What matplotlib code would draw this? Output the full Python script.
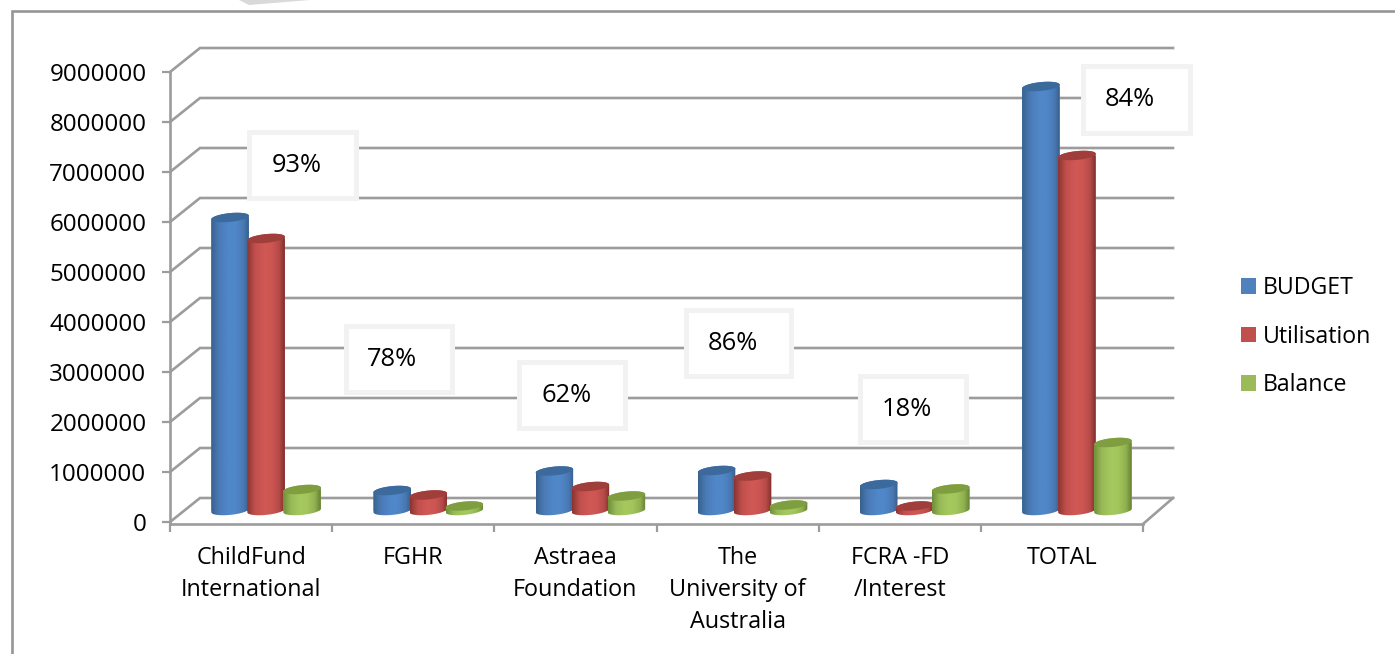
import numpy as np
import matplotlib
matplotlib.use("Agg")
import matplotlib.pyplot as plt
from matplotlib.patches import Patch, Polygon, Rectangle

categories = ["ChildFund\nInternational", "FGHR", "Astraea\nFoundation",
              "The\nUniversity of\nAustralia", "FCRA -FD\n/Interest", "TOTAL"]
budget = [5860000, 400000, 790000, 800000, 520000, 8480000]
utilisation = [5440000, 310000, 480000, 690000, 90000, 7100000]
balance = [420000, 90000, 290000, 110000, 430000, 1360000]
y_ticks = [0, 1000000, 2000000, 3000000, 4000000, 5000000, 6000000, 7000000, 8000000, 9000000]
series_names = ["BUDGET", "Utilisation", "Balance"]
percent_labels = ["93%", "78%", "62%", "86%", "18%", "84%"]

W, H = 1395, 654
FONT = "Open Sans"
FS = 16.8
FS_NUM = 17.4
FS_PCT = 18.4
GRAY = "#9c9c9c"
plt.rcParams["font.family"] = [FONT, "DejaVu Sans"]

fig = plt.figure(figsize=(W / 100, H / 100), dpi=100, facecolor="white")
L, R, T, B = 170, 1143, 72, 524
ax = fig.add_axes([L / W, 1 - B / H, (R - L) / W, (B - T) / H])
PX_X = (R - L) / 6.0        # pixels per category
PX_Y = 50 / 1e6             # pixels per value unit
YMIN = -2 / PX_Y
ax.set_xlim(0, 6)
ax.set_ylim(YMIN, 9000000)
ax.set_facecolor("none")

DX, DY = 30 / PX_X, 24 / PX_Y   # depth of the 3D box in data units

# --- walls, floor
for s in ("top", "right"):
    ax.spines[s].set_visible(False)
for s in ("left", "bottom"):
    ax.spines[s].set_color(GRAY)
    ax.spines[s].set_linewidth(1.9)
ax.spines["left"].set_bounds(YMIN, 9000000)
for v in y_ticks:
    ax.plot([0, DX, 6 + DX], [v, v + DY, v + DY], color=GRAY, lw=1.9,
            clip_on=False, zorder=1, solid_joinstyle="miter")
ax.plot([6, 6 + DX], [YMIN, DY], color=GRAY, lw=1.9, clip_on=False, zorder=1)

ax.set_yticks(y_ticks)
ax.set_yticklabels([str(v) for v in y_ticks], fontsize=FS_NUM, color="black")
ax.tick_params(axis="y", length=6, width=1.6, color=GRAY, pad=11)
ax.set_xticks(range(7))
ax.set_xticklabels([])
ax.tick_params(axis="x", which="major", length=5.5, width=1.6, color=GRAY)
ax.set_xticks(np.arange(6) + 0.5, minor=True)
ax.set_xticklabels(categories, minor=True, fontsize=FS, color="black", linespacing=1.46)
ax.tick_params(axis="x", which="minor", length=0, pad=15.5)

# --- cylinders
SERIES = [
    (budget, "#4f81bd", "#3d6a9c", ["#38618f", "#4a7ab5", "#5087c9", "#5087c9", "#4a7ab5", "#38608f"]),
    (utilisation, "#c0504d", "#a03e3b", ["#8a3431", "#c04f4c", "#d05855", "#cd5653", "#b54b48", "#7f2f2d"]),
    (balance, "#9bbb59", "#7f9e40", ["#6f8f3a", "#98ba57", "#a6c95f", "#a3c55c", "#8fb04f", "#668235"]),
]
OFFSETS = [-0.222, 0.0, 0.222]
BW = 37.5 / PX_X
t = np.linspace(0, 2 * np.pi, 121)
A_PX, B_PX, TILT_PX = 18.75, 4.4, 1.8


def ellipse(xc, yc, tt):
    return np.column_stack([
        xc + A_PX * np.cos(tt) / PX_X,
        yc + (B_PX * np.sin(tt) + TILT_PX * np.cos(tt)) / PX_Y,
    ])


for (vals, base, top, stops), off in zip(SERIES, OFFSETS):
    rgb = np.array([matplotlib.colors.to_rgb(c) for c in stops])
    pos = np.array([0.0, 0.2, 0.45, 0.65, 0.85, 1.0])
    xs = np.linspace(0, 1, 64)
    grad = np.column_stack([np.interp(xs, pos, rgb[:, k]) for k in range(3)])[None, :, :]
    for i, v in enumerate(vals):
        xc = i + 0.5 + off + DX / 2
        y0 = 11.5 / PX_Y
        y1 = v + y0
        lower = ellipse(xc, y0, np.linspace(np.pi, 2 * np.pi, 60))
        upper = ellipse(xc, y1, np.linspace(0, np.pi, 60))
        body = Polygon(np.vstack([lower, upper]), closed=True, transform=ax.transData,
                       facecolor="none", edgecolor="none")
        ax.add_patch(body)
        bar = ax.bar(xc, v, BW, bottom=y0, color=base, zorder=3, linewidth=0)[0]
        bar.set_clip_path(body)
        im = ax.imshow(grad, extent=(xc - BW / 2, xc + BW / 2, y0 - 6 / PX_Y, y1 + 6 / PX_Y),
                       aspect="auto", zorder=3, interpolation="bilinear")
        im.set_clip_path(body)
        ax.add_patch(Polygon(ellipse(xc, y1, t), closed=True, facecolor=top,
                             edgecolor="none", zorder=3, clip_on=False))
ax.set_xlim(0, 6)
ax.set_ylim(YMIN, 9000000)

# --- percentage boxes (outer pixel box, text centre)
BOXES = [(246, 129, 358, 200), (343, 323, 454, 394), (516, 359, 627, 430),
         (683, 307, 793, 378), (857, 373, 968, 444), (1080, 63, 1192, 135)]
TEXT_AT = [(297, 166), (392, 360), (567, 396), (733, 344), (907, 410), (1130, 100)]
for lab, (x0, y0, x1, y1), (tx, ty) in zip(percent_labels, BOXES, TEXT_AT):
    ax.add_patch(Rectangle((x0 + 2.5, H - y1 + 2.5), x1 - x0 - 5, y1 - y0 - 5,
                           transform=None, facecolor="white", edgecolor="#f2f2f2",
                           lw=3.6, zorder=5, clip_on=False))
    ax.text(tx, H - ty, lab, transform=None, ha="center", va="center",
            fontsize=FS_PCT, color="black", zorder=6, clip_on=False)

# --- legend
handles = [Patch(facecolor=s[1], edgecolor="none", label=n) for s, n in zip(SERIES, series_names)]
fig.legend(handles=handles, loc="upper left", bbox_to_anchor=(1241 / W, 1 - 276 / H),
           frameon=False, fontsize=16.7, borderpad=0, borderaxespad=0,
           handlelength=0.645, handleheight=0.645, handletextpad=0.3, labelspacing=1.06)

# --- outer frame and the scrap of shape above it
fig.add_artist(plt.Line2D([12 / W, 12 / W, 1], [0, 1 - 11 / H, 1 - 11 / H],
                          color="#969696", lw=1.9, solid_joinstyle="miter"))
fig.add_artist(Polygon([(239 / W, 1), (249 / W, 1 - 5 / H), (310 / W, 1)], closed=True,
                       transform=fig.transFigure, facecolor="#d9d9d9", edgecolor="none"))

fig.savefig("out.png", dpi=100, facecolor="white")
